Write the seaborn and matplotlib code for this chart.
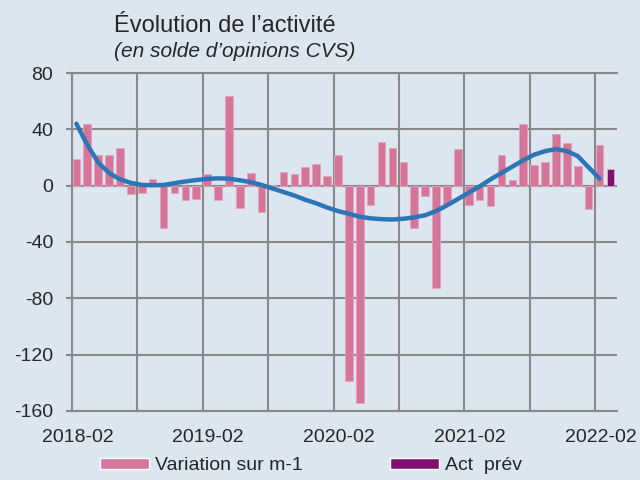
import numpy as np
import pandas as pd
import seaborn as sns
import matplotlib.pyplot as plt
from matplotlib.patches import Patch

# monthly data, 2018-02 .. 2022-02
months = pd.date_range('2018-02-01', '2022-02-01', freq='MS')
variation = [19, 44, 22, 22, 27, -6, -5, 4.5, -30, -5,
             -10.5, -9.5, 8, -10.5, 64, -16, 9, -18.5, 0.5, 10,
             8, 13, 15.5, 7, 22, -139, -154, -14, 31, 27,
             17, -30, -7, -72.5, -13, 26, -13.5, -10, -14.5, 22,
             4, 43.5, 15, 17, 36.5, 30, 14, -16.5, 29]
trend = [44, 29, 16.5, 9, 4.5, 2, 0.5, 0.3, 0.5, 1.8,
         3, 4, 4.8, 5.2, 5, 3.8, 2.5, 0.5, -2, -4.5,
         -7, -10, -12.5, -15.5, -18, -20, -22, -23.2, -23.8, -24,
         -23.5, -22.5, -21, -18, -14, -9.5, -5, -0.5, 4.5, 9,
         13.5, 18, 22, 24.5, 26, 24.5, 21, 13, 5]
prev_month = pd.Timestamp('2022-03-01')
prev_value = 11.5

yticks = [80, 40, 0, -40, -80, -120, -160]
label_months = ['2018-02', '2019-02', '2020-02', '2021-02', '2022-02']

BG = '#DCE6F1'
PINK = '#D5759A'
PURPLE = '#7E1170'
BLUE = '#2E75B6'
GRID = '#898989'

sns.set_theme(style='white')
plt.rcParams['font.family'] = ['Liberation Sans', 'DejaVu Sans']

def month_pos(d):
    # months since 2018-02, bar sits a bit right of the month gridline
    d = pd.DatetimeIndex(d)
    return (d.year - 2018) * 12 + d.month - 2 + 0.4

bars = pd.concat([
    pd.DataFrame({'pos': month_pos(months), 'val': variation, 'serie': 'Variation sur m-1'}),
    pd.DataFrame({'pos': month_pos([prev_month]), 'val': [prev_value], 'serie': 'Act  prév'}),
])

fig = plt.figure(figsize=(6.4, 4.8), dpi=100, facecolor=BG)
ax = fig.add_axes([72/640, 1-411/480, (617-72)/640, (411-73)/480])
ax.set_facecolor(BG)

sns.barplot(data=bars, x='pos', y='val', hue='serie', palette=[PINK, PURPLE],
            native_scale=True, width=0.7, dodge=False, errorbar=None,
            saturation=1, legend=False, edgecolor='#E3A3BC', linewidth=0.6, ax=ax, zorder=3)
sns.lineplot(x=month_pos(months), y=trend, color=BLUE, lw=3.2, ax=ax, zorder=4,
             solid_capstyle='round')

ax.set_xlim(0, 50)
ax.set_ylim(-160, 80)
ax.set_yticks(yticks)
ax.set_yticklabels([str(v) for v in yticks])
# labels sit half a month right of their gridline
ax.set_xticks([0.5, 12.5, 24.5, 36.5, 48.5])
ax.set_xticklabels(label_months)
ax.set_xticks(range(0, 49, 6), minor=True)
ax.set_xlabel('')
ax.set_ylabel('')

ax.grid(axis='y', color=GRID, lw=1.5, zorder=0)
ax.grid(axis='x', which='minor', color=GRID, lw=1.5, zorder=0)
ax.set_axisbelow(True)
for s in ['left', 'top', 'bottom']:
    ax.spines[s].set_color(GRID)
    ax.spines[s].set_linewidth(1.5)
ax.spines['right'].set_visible(False)

ax.tick_params(axis='y', length=4.5, width=1.5, color=GRID, labelsize=14, pad=9, left=True)
ax.tick_params(axis='x', which='both', length=0, labelsize=14, pad=13)

fig.text(114/640, 1-32/480, 'Évolution de l’activité', fontsize=17, va='baseline')
fig.text(114/640, 1-57/480, '(en solde d’opinions CVS)', fontsize=15, style='italic', va='baseline')

handles = [Patch(facecolor=PINK), Patch(facecolor=PURPLE)]
fig.legend(handles, ['Variation sur m-1', 'Act  prév'], loc='center',
           bbox_to_anchor=(311/640, 1-466/480), ncol=2, frameon=False, fontsize=14,
           handlelength=2.5, handleheight=0.46, handletextpad=0.3, columnspacing=4.5)

fig.savefig('out.png', dpi=100, facecolor=BG)
